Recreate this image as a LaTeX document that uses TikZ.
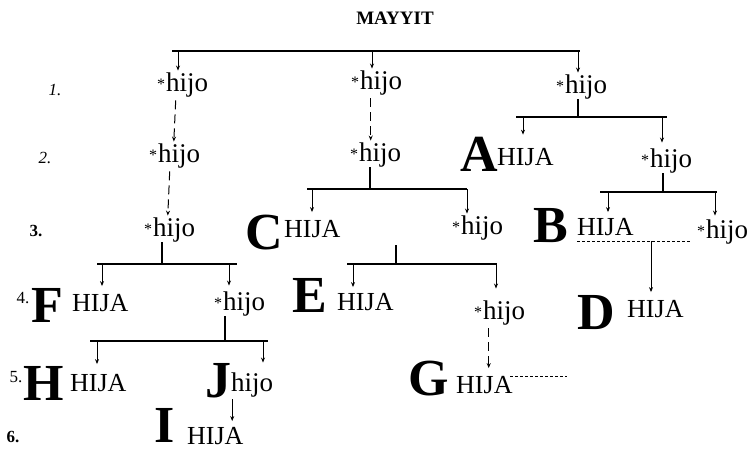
\documentclass[tikz,border=0pt]{standalone}
\usepackage{fontspec}
\setmainfont{Liberation Serif}
\usetikzlibrary{arrows.meta}
\tikzset{
  % textos
  hijo/.style={inner sep=0pt, anchor=west, font=\fontsize{27}{27}\selectfont},
  hija/.style={inner sep=0pt, anchor=west, font=\fontsize{26}{26}\selectfont},
  big/.style={inner sep=0pt, font=\fontsize{52}{52}\selectfont\bfseries},
  lvl/.style={inner sep=0pt, font=\fontsize{17}{17}\selectfont},
  % lineas
  bar/.style={line width=1.1pt},
  arr/.style={-{Stealth[length=5pt,width=4pt]}, line width=1pt, shorten >=2pt},
  arrd/.style={arr, dash pattern=on 9pt off 5pt},
  rule/.style={line width=0.8pt, dash pattern=on 3pt off 2pt},
}
\newcommand{\hj}{\raisebox{1.5pt}{\fontsize{16}{16}\selectfont*}\kern1pt hijo}

\begin{document}
\begin{tikzpicture}[x=1pt,y=-1pt]
    \useasboundingbox (0,0) rectangle (754,452);

    % Title
    \node[font=\fontsize{19}{19}\selectfont\bfseries, inner sep=0pt] (may) at (395,18) {MAYYIT};

    % Level numbers
    \foreach \n/\x/\y/\f in {1/55/90/\itshape, 2/45/158/\itshape, 3/36/231/\bfseries,
                             4/23/298/\relax, 5/16/377/\relax, 6/13/437/\bfseries} {
        \node[lvl] (n\n) at (\x,\y) {\f\n.};
    }

    % Level 1
    \node[hijo] (h1a) at (157,85) {\hj};
    \node[hijo] (h1b) at (351,83) {\hj};
    \node[hijo] (h1c) at (556,87) {\hj};

    % Level 2
    \node[hijo] (h2a) at (149,156) {\hj};
    \node[hijo] (h2b) at (350,155) {\hj};
    \node[big]  (lA)  at (479,154) {A};
    \node[hija] (hA)  at (497,157) {HIJA};
    \node[hijo] (h2c) at (641,161) {\hj};

    % Level 3
    \node[hijo] (h3a) at (144,230) {\hj};
    \node[big]  (lC)  at (264,233) {C};
    \node[hija] (hC)  at (284,229) {HIJA};
    \node[hijo] (h3b) at (452,228) {\hj};
    \node[big]  (lB)  at (551,226) {B};
    \node[hija] (hB)  at (577,227) {HIJA};
    \node[hijo] (h3c) at (697,232) {\hj};

    % Level 4
    \node[big]  (lF)  at (47,305) {F};
    \node[hija] (hF)  at (72,303) {HIJA};
    \node[hijo] (h4a) at (214,304) {\hj};
    \node[big]  (lE)  at (310,295) {E};
    \node[hija] (hE)  at (337,302) {HIJA};
    \node[hijo] (h4b) at (474,313) {\hj};
    \node[big]  (lD)  at (596,313) {D};
    \node[hija] (hD)  at (627,309) {HIJA};

    % Level 5
    \node[big]  (lH)  at (44,383) {H};
    \node[hija] (hH)  at (70,383) {HIJA};
    \node[big]  (lJ)  at (218,381) {J};
    \node[hijo] (hJ)  at (231,385) {hijo};
    \node[big]  (lG)  at (429,379) {G};
    \node[hija] (hG)  at (456,385) {HIJA};

    % Level 6
    \node[big]  (lI)  at (165,425) {I};
    \node[hija] (hI)  at (187,436) {HIJA};

    % Top bar
    \coordinate (t0) at (172,51);
    \coordinate (t1) at (580,51);
    \draw[bar] (t0) -- (t1);
    \coordinate (ta) at (178,51);
    \coordinate (tb) at (372,51);
    \coordinate (tc) at (578,51);
    \draw[arr] (ta) -- (ta |- h1a.north);
    \draw[arr] (tb) -- (tb |- h1b.north);
    \draw[arr] (tc) -- (tc |- h1c.north);

    % Left column
    \draw[arrd] ([xshift=-7pt,yshift=-3pt]h1a.south) -- ([xshift=-1pt]h2a.north);
    \draw[arrd] ([xshift=-5pt,yshift=-3pt]h2a.south) -- ([xshift=-2pt]h3a.north);
    \draw[arrd] ([xshift=-6pt,yshift=-3pt]h1b.south) -- ([xshift=-5pt]h2b.north);

    % Right branch of level 1
    \coordinate (r1) at (578,117);
    \draw[bar] (r1 |- h1c.south) -- (r1);
    \draw[bar] (516,117) coordinate (r1a) -- (667,117) coordinate (r1b);
    \coordinate (r1x) at (523,117);
    \coordinate (r1y) at (662,117);
    \draw[arr] (r1x) -- (r1x |- lA.north);
    \draw[arr, shorten >=6pt] (r1y) -- (r1y |- h2c.north);

    \coordinate (r2) at (663,192);
    \draw[bar] (r2 |- h2c.south) -- (r2);
    \draw[bar] (600,192) coordinate (r2a) -- (717,192) coordinate (r2b);
    \coordinate (r2x) at (608,192);
    \coordinate (r2y) at (715,192);
    \draw[arr, shorten >=6pt] (r2x) -- (r2x |- hB.north);
    \draw[arr, shorten >=4pt] (r2y) -- (r2y |- h3c.north);

    \draw[rule] (577,241) coordinate (u0) -- (690,241) coordinate (u1);
    \coordinate (ud) at (651,241);
    \draw[arr, shorten >=8pt] (ud) -- (ud |- hD.north);

    % Middle branch
    \coordinate (m2) at (370,189);
    \draw[bar] (m2 |- h2b.south) -- (m2);
    \draw[bar] (307,189) coordinate (m2a) -- (467,189) coordinate (m2b);
    \coordinate (m2x) at (312,189);
    \coordinate (m2y) at (467,189);
    \draw[arr, shorten >=8pt] (m2x) -- (m2x |- hC.north);
    \draw[arr] (m2y) -- (m2y |- h3b.north);

    \coordinate (m3s) at (396,245);
    \coordinate (m3) at (396,264);
    \draw[bar] (m3s) -- (m3);
    \draw[bar] (347,264) coordinate (m3a) -- (497,264) coordinate (m3b);
    \coordinate (m3x) at (353,264);
    \coordinate (m3y) at (496,264);
    \draw[arr, shorten >=6pt] (m3x) -- (m3x |- hE.north);
    \draw[arr, shorten >=12pt] (m3y) -- (m3y |- h4b.north);

    \draw[arrd, shorten >=8pt] ([xshift=-11pt,yshift=-3pt]h4b.south) -- ([xshift=-11pt]h4b.south |- hG.north);
    \draw[rule] (510,376) coordinate (g0) -- (567,376) coordinate (g1);

    % Left branch
    \coordinate (l1) at (162,264);
    \draw[bar] (l1 |- h3a.south) -- (l1);
    \draw[bar] (97,264) coordinate (l1a) -- (237,264) coordinate (l1b);
    \coordinate (l1x) at (102,264);
    \coordinate (l1y) at (229,264);
    \draw[arr, shorten >=8pt] (l1x) -- (l1x |- hF.north);
    \draw[arr, shorten >=6pt] (l1y) -- (l1y |- h4a.north);

    \coordinate (l2) at (225,341);
    \draw[bar] (l2 |- h4a.south) -- (l2);
    \draw[bar] (90,341) coordinate (l2a) -- (268,341) coordinate (l2b);
    \coordinate (l2x) at (97,341);
    \coordinate (l2y) at (263,341);
    \draw[arr, shorten >=10pt] (l2x) -- (l2x |- hH.north);
    \draw[arr, shorten >=10pt] (l2y) -- (l2y |- hJ.north);

    \draw[arr, shorten >=6pt] ([xshift=-20pt,yshift=-2pt]hJ.south) -- ([xshift=-20pt]hJ.south |- hI.north);
\end{tikzpicture}
\end{document}
